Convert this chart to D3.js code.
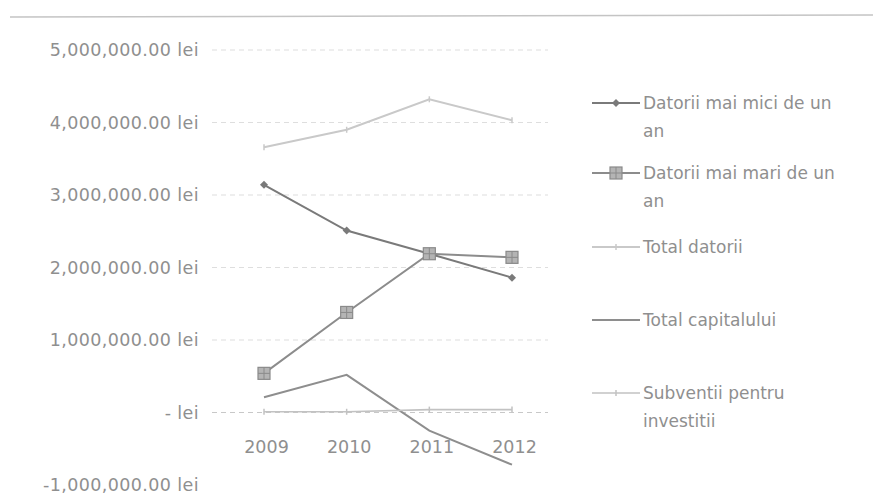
<!DOCTYPE html>
<html><head><meta charset="utf-8">
<script src="https://cdn.jsdelivr.net/npm/d3@7"></script>
<style>body{margin:0;background:#fff;} svg{display:block;}</style>
</head><body>
<svg id="c" width="873" height="497"></svg>
<script>
const years = ["2009","2010","2011","2012"];
const datoriiMici = [3140000, 2510000, 2190000, 1860000];
const datoriiMari = [540000, 1380000, 2190000, 2140000];
const totalDatorii = [3660000, 3900000, 4320000, 4030000];
const totalCapital = [210000, 520000, -250000, -720000];
const subventii = [10000, 10000, 40000, 40000];
const yTicks = [-1000000, 0, 1000000, 2000000, 3000000, 4000000, 5000000];
const yTickLabels = ["-1,000,000.00 lei","- lei","1,000,000.00 lei","2,000,000.00 lei","3,000,000.00 lei","4,000,000.00 lei","5,000,000.00 lei"];
const seriesNames = [["Datorii mai mici de un","an"],["Datorii mai mari de un","an"],["Total datorii"],["Total capitalului"],["Subventii pentru","investitii"]];

const svg = d3.select("#c");
const x = d3.scalePoint().domain(years).range([264, 512]);
const y = d3.scaleLinear().domain([-1000000, 5000000]).range([485, 50]);
const font = "DejaVu Sans";
const txt = "#8f8f8f";

// top border
svg.append("line").attr("x1",10).attr("x2",873).attr("y1",17).attr("y2",15)
  .attr("stroke","#c4c4c4").attr("stroke-width",1.5);

// gridlines
svg.append("g").selectAll("line").data(yTicks.filter(d=>d>=0)).join("line")
  .attr("x1",212).attr("x2",548).attr("y1",d=>y(d)).attr("y2",d=>y(d))
  .attr("stroke",d=>d===0?"#c8c8c8":"#dedede").attr("stroke-width",1.2)
  .attr("stroke-dasharray","5,4");

// y axis labels
const yAxis = d3.axisLeft(y).tickValues(yTicks).tickSize(0)
  .tickFormat((d,i)=>yTickLabels[i]);
const gy = svg.append("g").attr("transform","translate(202,0)").call(yAxis);
gy.select(".domain").remove();
gy.selectAll("text").attr("font-family",font).attr("font-size",17.5).attr("letter-spacing",0.4).attr("fill",txt).attr("dx",0);

// x axis labels
const xAxis = d3.axisBottom(x).tickSize(0);
const gx = svg.append("g").attr("transform","translate(2,438)").call(xAxis);
gx.select(".domain").remove();
gx.selectAll("text").attr("font-family",font).attr("font-size",17.5).attr("fill",txt).attr("dy","0.71em");

const line = d3.line().x((d,i)=>x(years[i])).y(d=>y(d));
const series = [
  {v:datoriiMici, c:"#7a7a7a", w:2, m:"diamond"},
  {v:datoriiMari, c:"#8c8c8c", w:2, m:"square"},
  {v:totalDatorii, c:"#c9c9c9", w:2, m:"tick"},
  {v:totalCapital, c:"#8e8e8e", w:2, m:"none"},
  {v:subventii, c:"#c2c2c2", w:1.6, m:"tick"}
];
function marker(g, type, cx, cy, c){
  if(type==="diamond"){
    g.append("path").attr("d",`M${cx},${cy-4}L${cx+4},${cy}L${cx},${cy+4}L${cx-4},${cy}Z`).attr("fill",c);
  } else if(type==="square"){
    g.append("rect").attr("x",cx-6).attr("y",cy-6).attr("width",12).attr("height",12)
      .attr("fill","#b4b4b4").attr("stroke","#8a8a8a").attr("stroke-width",1.2);
    g.append("line").attr("x1",cx-6).attr("x2",cx+6).attr("y1",cy).attr("y2",cy).attr("stroke","#8a8a8a");
    g.append("line").attr("x1",cx).attr("x2",cx).attr("y1",cy-6).attr("y2",cy+6).attr("stroke","#8a8a8a");
  } else if(type==="tick"){
    g.append("line").attr("x1",cx).attr("x2",cx).attr("y1",cy-3).attr("y2",cy+3).attr("stroke",c).attr("stroke-width",1.5);
  }
}
series.forEach(s=>{
  const g = svg.append("g");
  g.append("path").datum(s.v).attr("d",line).attr("fill","none").attr("stroke",s.c).attr("stroke-width",s.w);
  s.v.forEach((d,i)=>marker(g,s.m,x(years[i]),y(d),s.c));
});

// legend
const legY = [103,173,247,320,393];
seriesNames.forEach((names,i)=>{
  const g = svg.append("g");
  const ly = legY[i];
  g.append("line").attr("x1",592).attr("x2",640).attr("y1",ly).attr("y2",ly).attr("stroke",series[i].c).attr("stroke-width",series[i].w);
  marker(g, series[i].m, 616, ly, series[i].c);
  names.forEach((t,j)=>{
    g.append("text").attr("x",643).attr("y",ly+6+j*28).text(t)
      .attr("font-family",font).attr("font-size",17).attr("fill",txt);
  });
});
</script>
</body></html>
